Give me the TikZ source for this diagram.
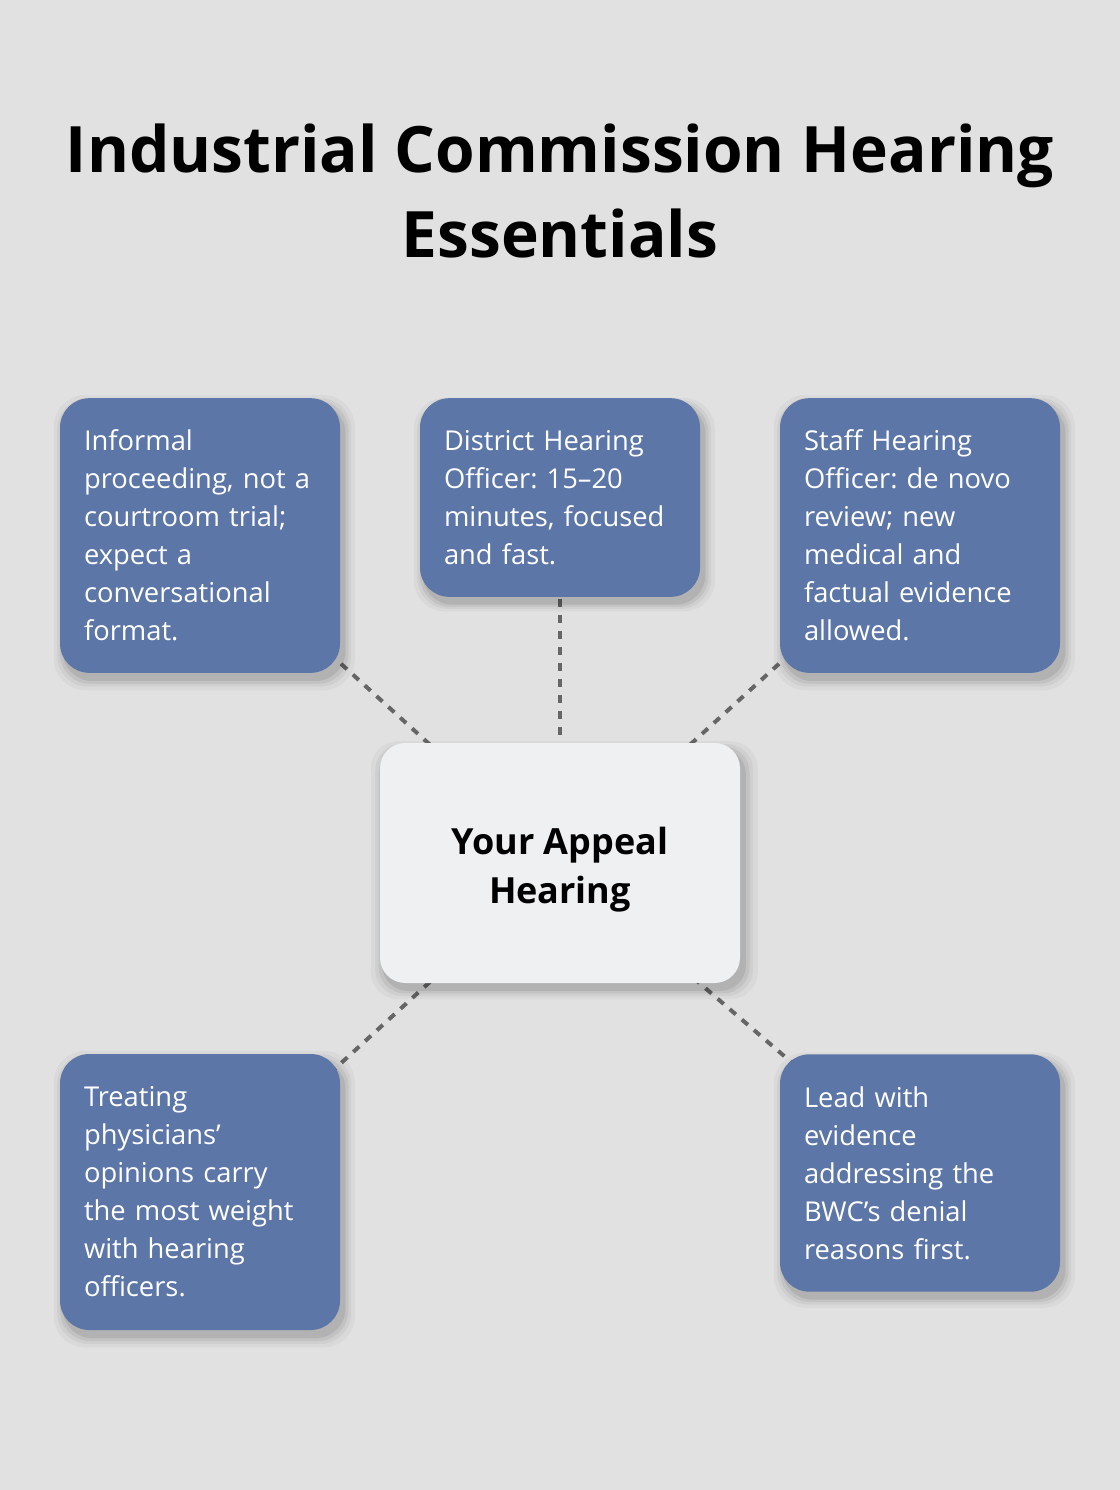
\documentclass[tikz,border=0pt]{standalone}
\usepackage{fontspec}
\setmainfont{Open Sans}
\usepackage{tikz}
\usetikzlibrary{positioning,backgrounds,shadows}
\frenchspacing

\definecolor{bgcol}{HTML}{E0E1E0}
\definecolor{boxcol}{HTML}{5D76A8}
\definecolor{hubcol}{HTML}{EFF0F2}
\definecolor{dotcol}{HTML}{666666}

\tikzset{
    softshadow/.style={
        general shadow={fill=black,opacity=0.035,shadow xshift=3pt,shadow yshift=-5pt,shadow scale=1.075},
        general shadow={fill=black,opacity=0.045,shadow xshift=3pt,shadow yshift=-5pt,shadow scale=1.05},
        general shadow={fill=black,opacity=0.06,shadow xshift=3pt,shadow yshift=-5pt,shadow scale=1.03},
        general shadow={fill=black,opacity=0.08,shadow xshift=3pt,shadow yshift=-5pt,shadow scale=1.01}}
}

\begin{document}
\begin{tikzpicture}[
    x=0.75pt, y=0.75pt,
    fact/.style={rectangle,rounded corners=22pt,fill=boxcol,text=white,
        minimum width=210pt,text width=174pt,align=left,inner xsep=18pt,
        font=\fontsize{20.5}{28.5}\selectfont,softshadow},
    hub/.style={rectangle,rounded corners=19pt,fill=hubcol,
        minimum width=270pt,minimum height=180pt,align=center,
        font=\bfseries\fontsize{27}{37}\selectfont,softshadow},
    dotline/.style={draw=dotcol,line width=3pt,dash pattern=on 6pt off 6pt}
]
\useasboundingbox (0,0) rectangle (1120,-1490);

\node[font=\bfseries\fontsize{48}{64}\selectfont,align=center] (title) at (560,-191)
    {Industrial Commission Hearing\\Essentials};

\node[hub] (C) at (560,-863) {\rule{0pt}{30pt}Your Appeal\\Hearing};
\node[fact,minimum height=206pt] (I) at (200,-535.5)
    {Informal\\proceeding, not a\\courtroom trial;\\expect a\\conversational\\format.};
\node[fact,minimum height=149pt] (D) at (560,-497.5)
    {District Hearing\\Officer: 15–20\\minutes, focused\\and fast.};
\node[fact,minimum height=206pt] (S) at (920,-535.5)
    {Staff Hearing\\Officer: de novo\\review; new\\medical and\\factual evidence\\allowed.};
\node[fact,minimum height=207pt] (T) at (200,-1192)
    {Treating\\physicians’\\opinions carry\\the most weight\\with hearing\\officers.};
\node[fact,minimum height=178pt] (L) at (920,-1173)
    {Lead with\\evidence\\addressing the\\BWC’s denial\\reasons first.};

\begin{scope}[on background layer]
\fill[bgcol] (0,0) rectangle (1120,-1490);
\draw[dotline] (C.center) -- (I.center);
\draw[dotline] (C.center) -- (D.center);
\draw[dotline] (C.center) -- (S.center);
\draw[dotline] (C.center) -- (T.center);
\draw[dotline] (C.center) -- (L.center);
\end{scope}
\end{tikzpicture}
\end{document}
